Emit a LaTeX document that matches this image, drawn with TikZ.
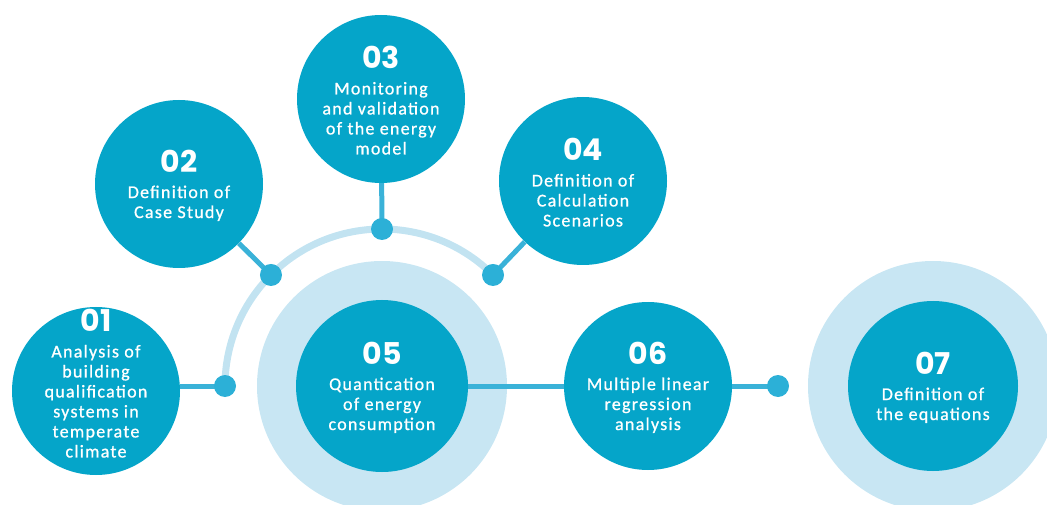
\documentclass[tikz,border=0pt]{standalone}
\usepackage{fontspec}
\setmainfont{Carlito}[LetterSpace=7, FakeBold=0.8]
\newfontfamily\numfont{Poppins}
\usetikzlibrary{calc}

\definecolor{bubbleblue}{HTML}{05A5C9}
\definecolor{ringblue}{HTML}{C8E6F3}
\definecolor{arcblue}{HTML}{C2E3F1}
\definecolor{dotblue}{HTML}{2CB0D7}
\definecolor{lineblue}{HTML}{3AB2D8}

\tikzset{
  bubble/.style={circle, fill=bubbleblue, minimum size=168pt, inner sep=0pt,
    text=white, align=center, font=\fontsize{18}{20}\selectfont},
  bubbletext/.style={text=white, align=center, inner sep=0pt,
    font=\fontsize{18}{20}\selectfont},
  ring/.style={circle, fill=ringblue, minimum size=250pt, inner sep=0pt},
  dot/.style={circle, fill=dotblue, minimum size=22pt, inner sep=0pt},
  link/.style={draw=lineblue, line width=5pt},
}
\newcommand{\stepnum}[1]{{\numfont\bfseries\fontsize{30}{30}\selectfont\rule{0pt}{25pt}#1}\\[6pt]}

\begin{document}
\begin{tikzpicture}[x=1pt, y=1pt]
  \useasboundingbox (0,0) rectangle (1047,504);
  % arc round step 05
  \coordinate (hub) at (382,118);
  \draw[arcblue, line width=7pt] ($(hub)+(45:157)$) arc[start angle=45, end angle=180, radius=157];
  \foreach \a/\n in {180/d1, 135/d2, 90/d3, 45/d4}
    \coordinate (\n) at ($(hub)+(\a:157)$);
  \coordinate (d6) at (778,118);
  % light rings
  \node[ring] (r05) at (hub) {};
  \node[ring] (r07) at (933,118) {};
  % steps
  \node[bubble] (c01) at (96,113) {};
  \node[bubbletext] (t01) at ([yshift=9pt]c01.center)
    {\stepnum{01}Analysis of\\building\\qualification\\systems in\\temperate\\climate};
  \node[bubble] (c02) at (179,320) {\stepnum{02}Definition of\\Case Study};
  \node[bubble] (c03) at (381,405) {\stepnum{03}Monitoring\\and validation\\of the energy\\model};
  \node[bubble] (c04) at (583,323) {\stepnum{04}Definition of\\Calculation\\Scenarios};
  \node[bubble, minimum size=172pt] (c05) at (hub) {\stepnum{05}Quantication\\of energy\\consumption};
  \node[bubble] (c06) at (648,118) {\stepnum{06}Multiple linear\\regression\\analysis};
  \node[bubble, minimum size=170pt] (c07) at (933,118) {\stepnum{07}Definition of\\the equations};
  % connectors
  \draw[link] (c01.east |- d1) -- (d1);
  \draw[link] (c02) -- (d2);
  \draw[link] (c03) -- (d3);
  \draw[link] (c04) -- (d4);
  \draw[link] (c05) -- (c06);
  \draw[link] (c06) -- (d6);
  \foreach \n in {d1, d2, d3, d4, d6}
    \node[dot] at (\n) {};
\end{tikzpicture}
\end{document}
